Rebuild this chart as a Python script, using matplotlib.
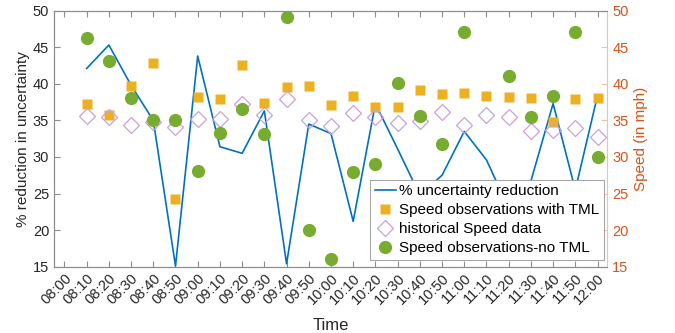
import matplotlib.pyplot as plt

plt.rcParams['font.family'] = ['Liberation Sans', 'DejaVu Sans']

# time of day for each observation
times = ['08:10', '08:20', '08:30', '08:40', '08:50', '09:00', '09:10', '09:20',
         '09:30', '09:40', '09:50', '10:00', '10:10', '10:20', '10:30', '10:40',
         '10:50', '11:00', '11:10', '11:20', '11:30', '11:40', '11:50', '12:00']
tick_labels = ['08:00'] + times

# % uncertainty reduction (left axis)
pct_reduction = [42.1, 45.3, 39.8, 35.0, 15.1, 43.8, 31.4, 30.5,
                 36.3, 15.4, 34.5, 33.2, 21.2, 37.3, 31.1, 24.8,
                 27.5, 33.5, 29.6, 23.0, 26.7, 37.3, 25.5, 38.4]

# speeds (right axis)
speed_tml = [37.2, 35.8, 39.75, 42.9, 24.2, 38.2, 37.9, 42.6,
             37.4, 39.5, 39.75, 37.1, 38.4, 36.9, 36.9, 39.1,
             38.6, 38.75, 38.4, 38.2, 38.1, 34.8, 37.9, 38.1]
speed_hist = [35.6, 35.4, 34.4, 34.8, 34.1, 35.2, 35.2, 37.2,
              35.7, 37.9, 35.05, 34.3, 36.05, 35.5, 34.7, 34.9,
              36.2, 34.4, 35.8, 35.4, 33.6, 33.7, 34.0, 32.7]
speed_no_tml = [46.3, 43.1, 38.1, 35.05, 35.05, 28.1, 33.3, 36.6,
                33.2, 49.1, 20.0, 16.05, 28.0, 29.05, 40.1, 35.55,
                31.8, 47.1, 22.0, 41.1, 35.4, 38.4, 47.1, 30.0]


def to_min(s):
    h, m = s.split(':')
    return int(h) * 60 + int(m)


x = [to_min(t) for t in times]
ticks = [to_min(t) for t in tick_labels]

orange = '#D95319'
axis_gray = '#8c8c8c'

fig = plt.figure(figsize=(6.75, 3.33), dpi=100)
ax = fig.add_axes([0.08, 0.199, 0.8197, 0.769])
ax2 = ax.twinx()

l1, = ax.plot(x, pct_reduction, color='#0072BD', lw=1.2)

s1, = ax2.plot(x, speed_tml, 's', color='#EDB120', ms=7, mec='none', ls='none')
s2, = ax2.plot(x, speed_hist, 'D', mfc='none', mec='#C9A0DC', ms=8, mew=0.9, ls='none')
s3, = ax2.plot(x, speed_no_tml, 'o', color='#77AC30', ms=9.5, mec='none', ls='none')

ax.set_xlim(475.3, 724.4)
ax.set_ylim(15, 50)
ax2.set_ylim(15, 50)
ax.set_xticks(ticks)
ax.set_xticklabels(tick_labels, rotation=45, ha='right', va='top',
                   rotation_mode='anchor')
ax.set_yticks(range(15, 51, 5))
ax2.set_yticks(range(15, 51, 5))

ax.tick_params(axis='both', direction='in', length=4, color=axis_gray,
               labelsize=10.5, labelcolor='#262626', top=True)
ax.tick_params(axis='x', pad=3)
ax2.tick_params(axis='y', direction='in', length=4, color='#f5bfa6',
                labelsize=10.5, labelcolor=orange)

for sp in ['left', 'top', 'bottom']:
    ax.spines[sp].set_color(axis_gray)
    ax2.spines[sp].set_color(axis_gray)
ax.spines['right'].set_visible(False)
ax2.spines['right'].set_color('#f5bfa6')

ax.set_xlabel('Time', fontsize=12, color='#262626', labelpad=8)
ax.set_ylabel('% reduction in uncertainty', fontsize=11, color='#262626', labelpad=2)
ax2.set_ylabel('Speed (in mph)', fontsize=11, color=orange, labelpad=4)

leg = ax2.legend([l1, s1, s2, s3],
                 ['% uncertainty reduction', 'Speed observations with TML',
                  'historical Speed data', 'Speed observations-no TML'],
                 loc='lower right', bbox_to_anchor=(0.994, 0.026),
                 borderaxespad=0, fancybox=False, framealpha=1,
                 edgecolor='#a6a6a6', fontsize=11, handlelength=1.4,
                 handletextpad=0.2, labelspacing=0.33, borderpad=0.3)
leg.get_frame().set_linewidth(0.8)
leg.set_zorder(10)

fig.savefig('out.png', dpi=100)
